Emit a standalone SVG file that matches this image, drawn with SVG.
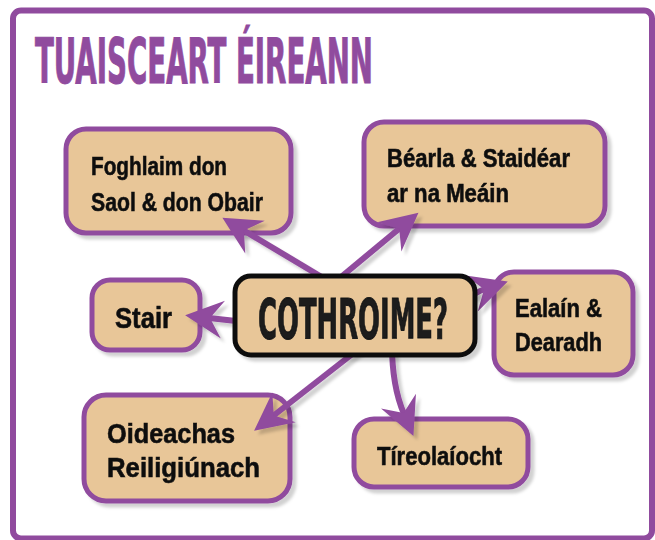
<svg xmlns="http://www.w3.org/2000/svg" width="655" height="540" viewBox="0 0 655 540">
<style>
.box{fill:#e8c698;stroke:#904b9e;stroke-width:5}
.lbl{font-family:"Liberation Sans",Arial,sans-serif;font-weight:bold;fill:#111;stroke:#111;stroke-width:0.6}
.con{fill:none;stroke:#904b9e;stroke-width:6;marker-end:url(#ah)}
.big{font-family:"DejaVu Sans Condensed","DejaVu Sans",sans-serif;font-stretch:condensed;font-weight:bold}
</style>
<defs>
<filter id="sh" filterUnits="userSpaceOnUse" x="0" y="0" width="655" height="540"><feDropShadow dx="4" dy="4" stdDeviation="1.5" flood-color="#000" flood-opacity="0.18"/></filter>
<marker id="ah" markerUnits="userSpaceOnUse" markerWidth="60" markerHeight="60" refX="0" refY="0" orient="auto" overflow="visible"><path d="M24,0 L-14,-19 L-1,0 L-14,19 Z" fill="#904b9e"/></marker>
</defs>
<rect x="0" y="0" width="655" height="540" fill="#fff"/>
<rect x="13" y="10.5" width="639" height="528" rx="8" fill="none" stroke="#904b9e" stroke-width="6"/>
<text class="big" x="35" y="83" font-size="62" textLength="338" lengthAdjust="spacingAndGlyphs" fill="#904b9e" stroke="#904b9e" stroke-width="1">TUAISCEART ÉIREANN</text>

<g id="foghlaim" filter="url(#sh)">
<rect class="box" x="66" y="129" width="225" height="104" rx="20"/>
<text class="lbl" x="91" y="175" font-size="26" textLength="136" lengthAdjust="spacingAndGlyphs">Foghlaim don</text>
<text class="lbl" x="91" y="211" font-size="26" textLength="172" lengthAdjust="spacingAndGlyphs">Saol &amp; don Obair</text>
</g>
<g id="bearla" filter="url(#sh)">
<rect class="box" x="364" y="122" width="241" height="104" rx="20"/>
<text class="lbl" x="387" y="167" font-size="25" textLength="183" lengthAdjust="spacingAndGlyphs">Béarla &amp; Staidéar</text>
<text class="lbl" x="387" y="202" font-size="25" textLength="122" lengthAdjust="spacingAndGlyphs">ar na Meáin</text>
</g>
<g id="stair" filter="url(#sh)">
<rect class="box" x="92" y="280" width="108" height="70" rx="18"/>
<text class="lbl" x="115" y="328" font-size="29" textLength="57" lengthAdjust="spacingAndGlyphs">Stair</text>
</g>
<g id="ealain" filter="url(#sh)">
<rect class="box" x="494" y="272" width="139" height="103" rx="20"/>
<text class="lbl" x="515" y="317" font-size="25" textLength="87" lengthAdjust="spacingAndGlyphs">Ealaín &amp;</text>
<text class="lbl" x="515" y="351" font-size="25" textLength="87" lengthAdjust="spacingAndGlyphs">Dearadh</text>
</g>
<g id="oideachas" filter="url(#sh)">
<rect class="box" x="84" y="395" width="206" height="106" rx="22"/>
<text class="lbl" x="107" y="443" font-size="28" textLength="128" lengthAdjust="spacingAndGlyphs">Oideachas</text>
<text class="lbl" x="107" y="477" font-size="28" textLength="153" lengthAdjust="spacingAndGlyphs">Reiligiúnach</text>
</g>
<g id="tireolaiocht" filter="url(#sh)">
<rect class="box" x="354" y="419" width="174" height="68" rx="20"/>
<text class="lbl" x="377" y="465" font-size="26" textLength="125" lengthAdjust="spacingAndGlyphs">Tíreolaíocht</text>
</g>

<g id="connectors" filter="url(#sh)">
<path class="con" d="M330,282 L243,230"/>
<path class="con" d="M335,282 L400,228"/>
<path class="con" d="M245,322 L209,318"/>
<path class="con" d="M462,302 Q476,292 485,289"/>
<path class="con" d="M360,348 L273,416"/>
<path class="con" d="M392,345 C392,380 398,400 404,414"/>
</g>

<g id="cothroime" filter="url(#sh)">
<rect x="235" y="276" width="240" height="79" rx="16" fill="#e8c698" stroke="#111" stroke-width="5"/>
<text class="big" x="258" y="338" font-size="56" textLength="190" lengthAdjust="spacingAndGlyphs" fill="#1a1a1a" stroke="#1a1a1a" stroke-width="1">COTHROIME?</text>
</g>
</svg>
